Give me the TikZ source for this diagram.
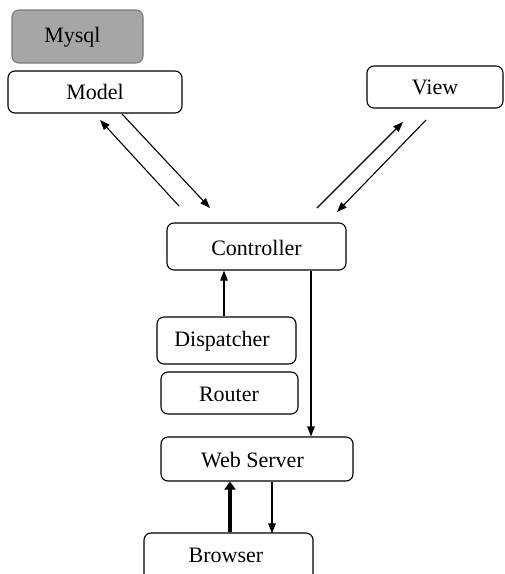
\documentclass[tikz,border=0pt]{standalone}
\usepackage{fontspec}
\setmainfont{Liberation Serif}
\usetikzlibrary{arrows.meta}
\begin{document}
\begin{tikzpicture}[x=1pt,y=-1pt,
  lbl/.style={font=\fontsize{22}{25}\selectfont},
  box/.style={draw=black,line width=1.1pt,rounded corners=7pt,fill=white,inner sep=0pt,lbl},
  conn/.style={line width=1.1pt,-{Triangle[length=10pt,width=7.5pt]}},
  thickconn/.style={line width=4pt,-{Triangle[length=8pt,width=11pt]}}]
\useasboundingbox (0,0) rectangle (505,574);
\begin{scope}
\clip (0,0) rectangle (505,574);
\node[box,fill={rgb,255:red,166;green,166;blue,166},draw={rgb,255:red,120;green,120;blue,120},minimum width=131pt,minimum height=53pt] (mysql) at (77.5,36.5) {};
\node[lbl] at (72.5,37) (mysqlt) {Mysql};
\node[box,minimum width=174pt,minimum height=42pt] (model) at (95,92) {Model};
\node[box,minimum width=136pt,minimum height=42pt] (view) at (435,87) {View};
\node[box,minimum width=179pt,minimum height=47pt] (ctrl) at (256.5,246.5) {};
\node[lbl] at (256.5,247.5) (ctrlt) {Controller};
\node[box,minimum width=139pt,minimum height=47pt] (disp) at (226.5,340.5) {};
\node[lbl] at (222,341) (dispt) {Dispatcher};
\node[box,minimum width=137pt,minimum height=42pt] (router) at (229.5,393) {};
\node[lbl] at (229,394.5) (routert) {Router};
\node[box,minimum width=192pt,minimum height=44pt] (web) at (257,459) {};
\node[lbl] at (252.5,460) (webt) {Web Server};
\node[box,minimum width=169pt,minimum height=48pt] (browser) at (228.5,557) {};
\node[lbl] at (226,555) (browsert) {Browser};
\end{scope}
% model <-> controller
\coordinate (m1s) at (179,206); \coordinate (m1e) at (100,120);
\coordinate (m2s) at (122,114); \coordinate (m2e) at (210,208);
\draw[conn] (m1s) -- (m1e);
\draw[conn] (m2s) -- (m2e);
% view <-> controller
\coordinate (v1s) at (317,208); \coordinate (v1e) at (403,122);
\coordinate (v2s) at (426,120); \coordinate (v2e) at (337,212);
\draw[conn] (v1s) -- (v1e);
\draw[conn] (v2s) -- (v2e);
% dispatcher -> controller
\draw[conn] (disp.north -| 224,0) -- (ctrl.south -| 224,0);
% controller -> web server
\draw[conn] (ctrl.south -| 311,0) -- (web.north -| 311,0);
% browser -> web server (thick)
\draw[thickconn] (browser.north -| 230,0) -- (web.south -| 230,0);
% web server -> browser
\draw[conn] (web.south -| 272,0) -- ([yshift=-1pt]browser.north -| 272,0);
\end{tikzpicture}
\end{document}
